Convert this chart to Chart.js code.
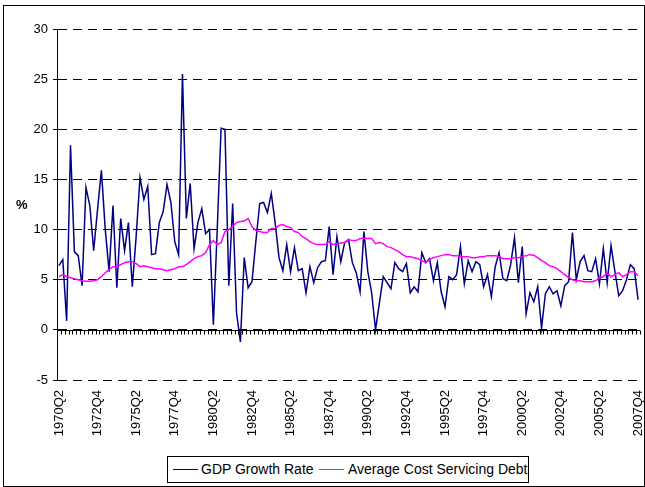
<!DOCTYPE html>
<html lang="en">
<head>
    <meta charset="UTF-8">
    <title>GDP Growth Rate vs Average Cost Servicing Debt</title>
    <style>
        body, html {
            margin: 0;
            padding: 0;
            background: #fff;
            font-family: "Liberation Sans", Arial, sans-serif;
        }
        #frame {
            position: absolute;
            left: 3px;
            top: 5px;
            width: 640px;
            height: 480px;
            border: 1px solid #000;
        }
        #chartBox {
            position: absolute;
            left: 0;
            top: 0;
            width: 645px;
            height: 487px;
        }
        #ylabel {
            position: absolute;
            left: 16px;
            top: 197px;
            font-size: 13px;
            font-weight: bold;
        }
        #legend {
            position: absolute;
            left: 167px;
            top: 456px;
            width: 360px;
            height: 25px;
            border: 1px solid #000;
            background: #fff;
            font-size: 14px;
        }
        #legend .swatch {
            position: absolute;
            top: 12px;
            width: 25px;
            height: 0;
            border-top: 1.5px solid;
        }
        #legend .txt {
            position: absolute;
            top: 4px;
            white-space: nowrap;
        }
    </style>
</head>
<body>

<div id="frame"></div>
<div id="chartBox">
    <canvas id="myChart" width="645" height="487"></canvas>
</div>
<div id="ylabel">%</div>
<div id="legend">
    <div class="swatch" style="left:5px; border-color:#000080;"></div>
    <div class="txt" style="left:33px;">GDP Growth Rate</div>
    <div class="swatch" style="left:151px; border-color:#ff00ff;"></div>
    <div class="txt" style="left:180px;">Average Cost Servicing Debt</div>
</div>

<script src="https://cdn.jsdelivr.net/npm/chart.js"></script>
<script type="text/javascript">
    // quarters 1970Q2 .. 2007Q4
    var startYear = 1970, startQ = 2, nQuarters = 151;
    var quarterLabels = [];
    for (let i = 0; i < nQuarters; i++) {
        let q = startQ - 1 + i;
        quarterLabels.push((startYear + Math.floor(q / 4)) + 'Q' + (q % 4 + 1));
    }

    var gdpGrowth = [
        6.4, 7.0, 0.9, 18.4, 7.8, 7.4, 4.4, 14.2, 12.4, 7.9,
        12.0, 15.9, 10.0, 5.8, 12.4, 4.2, 11.1, 7.9, 10.7, 4.3,
        9.3, 15.2, 13.0, 14.3, 7.5, 7.6, 10.7, 11.8, 14.5, 12.7,
        8.8, 7.5, 25.5, 11.1, 14.6, 8.1, 10.7, 12.1, 9.6, 10.0,
        0.5, 10.0, 20.1, 20.0, 4.4, 12.6, 1.7, -1.2, 7.2, 4.2,
        4.8, 8.8, 12.6, 12.7, 11.7, 13.6, 10.7, 7.2, 5.9, 8.5,
        5.8, 8.2, 5.9, 6.1, 3.7, 6.3, 4.7, 6.2, 6.8, 6.9,
        10.3, 5.5, 9.3, 6.8, 8.7, 9.0, 6.7, 5.7, 3.8, 9.8,
        5.8, 3.7, 0.0, 2.7, 5.3, 4.7, 4.1, 6.7, 6.1, 5.8,
        6.6, 3.7, 4.3, 3.8, 7.7, 6.7, 7.1, 4.9, 6.7, 3.8,
        2.3, 5.3, 5.0, 5.5, 8.3, 4.6, 6.9, 5.8, 6.8, 6.5,
        4.3, 5.5, 3.3, 6.3, 7.7, 5.1, 4.9, 6.5, 9.2, 4.7,
        8.3, 1.6, 3.7, 2.8, 4.3, 0.2, 3.6, 4.3, 3.6, 3.9,
        2.4, 4.4, 4.8, 9.7, 5.0, 6.8, 7.4, 5.9, 5.8, 7.1,
        4.6, 8.1, 4.7, 8.4, 5.8, 3.4, 3.9, 5.0, 6.5, 6.1,
        3.0
    ];

    var avgCostDebt = [
        5.3, 5.5, 5.3, 5.2, 5.1, 5.0, 4.9, 4.85, 4.85, 4.9,
        5.0, 5.3, 5.7, 6.0, 6.3, 6.3, 6.5, 6.7, 6.8, 6.8,
        6.6, 6.3, 6.4, 6.3, 6.2, 6.1, 6.1, 6.0, 5.9, 6.0,
        6.1, 6.3, 6.3, 6.5, 6.8, 7.1, 7.3, 7.4, 7.7, 8.5,
        8.9, 8.5, 8.7, 9.8, 10.0, 10.3, 10.7, 10.8, 10.85, 11.1,
        10.3, 9.9, 9.8, 9.7, 9.7, 10.1, 10.1, 10.4, 10.5, 10.3,
        10.2, 9.8, 9.7, 9.3, 9.1, 8.8, 8.6, 8.5, 8.5, 8.5,
        8.8, 8.5, 8.6, 8.65, 8.7, 9.0, 8.9, 8.9, 9.1, 9.1,
        9.1, 9.1, 8.6, 8.7, 8.6, 8.3, 8.2, 8.0, 7.8, 7.5,
        7.3, 7.3, 7.2, 7.1, 6.9, 6.7, 7.0, 7.2, 7.3, 7.4,
        7.5, 7.5, 7.4, 7.4, 7.3, 7.3, 7.3, 7.2, 7.2, 7.3,
        7.3, 7.4, 7.4, 7.4, 7.3, 7.1, 7.1, 7.1, 7.2, 7.2,
        7.3, 7.4, 7.5, 7.45, 7.2, 6.9, 6.7, 6.4, 6.3, 6.1,
        5.8, 5.5, 5.2, 5.0, 4.9, 4.9, 4.8, 4.8, 4.8, 4.9,
        5.2, 5.3, 5.7, 5.3, 5.5, 5.7, 5.3, 5.5, 5.8, 5.8,
        5.4
    ];

    var yMin = -5, yMax = 30, yStep = 5;
    var labelEvery = 10;

    // solid x axis through zero with a small tick between every quarter
    var zeroAxis = {
        id: 'zeroAxis',
        afterDatasetsDraw: function(chart) {
            var ctx = chart.ctx, area = chart.chartArea;
            var y0 = Math.round(chart.scales.y.getPixelForValue(0)) + 0.5;
            var step = (area.right - area.left) / nQuarters;
            ctx.save();
            ctx.strokeStyle = '#000';
            ctx.lineWidth = 1;
            ctx.setLineDash([]);
            ctx.beginPath();
            ctx.moveTo(area.left, y0);
            ctx.lineTo(area.right, y0);
            for (let k = 0; k <= nQuarters; k++) {
                let x = Math.round(area.left + k * step) + 0.5;
                ctx.moveTo(x, y0);
                ctx.lineTo(x, y0 + 4);
            }
            ctx.stroke();
            ctx.restore();
        }
    };

    Chart.defaults.font.family = '"Liberation Sans", Arial, sans-serif';
    Chart.defaults.font.size = 13;
    Chart.defaults.color = '#000';

    var ctx = document.getElementById('myChart').getContext('2d');
    window.myChart = new Chart(ctx, {
        type: 'line',
        data: {
            labels: quarterLabels,
            datasets: [
                {
                    label: 'GDP Growth Rate',
                    data: gdpGrowth,
                    borderColor: '#000080',
                    borderWidth: 1.5,
                    pointRadius: 0,
                    tension: 0,
                    fill: false,
                    order: 2
                },
                {
                    label: 'Average Cost Servicing Debt',
                    data: avgCostDebt,
                    borderColor: '#ff00ff',
                    borderWidth: 1.5,
                    pointRadius: 0,
                    tension: 0,
                    fill: false,
                    order: 1
                }
            ]
        },
        options: {
            responsive: false,
            animation: false,
            devicePixelRatio: 1,
            layout: {
                padding: { left: 0, top: 29, right: 5, bottom: 0 }
            },
            plugins: {
                legend: { display: false },
                tooltip: { enabled: false }
            },
            scales: {
                x: {
                    offset: true,
                    grid: { display: false, drawTicks: false, tickLength: 0 },
                    border: { display: false },
                    ticks: {
                        autoSkip: false,
                        minRotation: 90,
                        maxRotation: 90,
                        padding: 10,
                        callback: function(value, index) {
                            return index % labelEvery === 0 ? quarterLabels[index] : '';
                        }
                    },
                    afterFit: function(scale) {
                        scale.height = 107;
                        scale.paddingLeft = 0;
                        scale.paddingRight = 0;
                    }
                },
                y: {
                    min: yMin,
                    max: yMax,
                    ticks: { stepSize: yStep, padding: 5 },
                    grid: {
                        color: '#000',
                        lineWidth: 1,
                        tickLength: 4,
                        tickColor: '#000'
                    },
                    border: { display: true, color: '#000', width: 1, dash: [9, 6] },
                    afterFit: function(scale) {
                        scale.width = 57;
                        scale.paddingTop = 0;
                        scale.paddingBottom = 0;
                    }
                }
            }
        },
        plugins: [zeroAxis]
    });
</script>
</body>
</html>
